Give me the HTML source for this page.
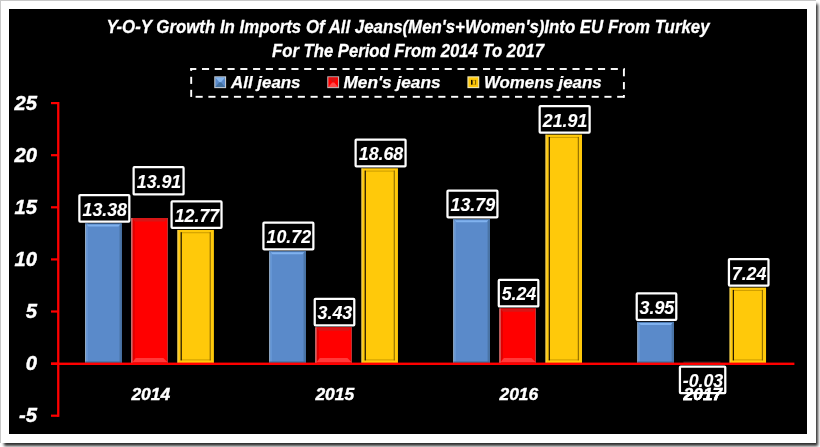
<!DOCTYPE html><html><head><meta charset="utf-8"><style>html,body{margin:0;padding:0;background:#fff;width:820px;height:447px;overflow:hidden}svg{display:block;will-change:transform;font-family:"Liberation Sans",sans-serif}</style></head><body>
<svg width="820" height="447" viewBox="0 0 820 447">
<rect x="0" y="0" width="820" height="447" fill="#fff"/>
<filter id="blur" x="-5%" y="-5%" width="110%" height="110%"><feGaussianBlur stdDeviation="1.8"/></filter>
<rect x="4" y="4" width="814" height="442" fill="#000" opacity="0.82" filter="url(#blur)"/>
<rect x="0" y="0" width="816" height="443" fill="#fff"/>
<rect x="0" y="0" width="816" height="1" fill="#C8C8C8"/>
<rect x="0" y="0" width="1" height="443" fill="#C8C8C8"/>
<rect x="9" y="9" width="798" height="425" fill="#000"/>
<text x="408" y="33.1" text-anchor="middle" font-size="18" font-weight="bold" font-style="italic" fill="#fff" stroke="#fff" stroke-width="0.3" textLength="603" lengthAdjust="spacingAndGlyphs">Y-O-Y Growth In Imports Of All Jeans(Men's+Women's)Into EU From Turkey</text>
<text x="408" y="57.2" text-anchor="middle" font-size="18" font-weight="bold" font-style="italic" fill="#fff" stroke="#fff" stroke-width="0.3" textLength="272" lengthAdjust="spacingAndGlyphs">For The Period From 2014 To 2017</text>
<rect x="190.30" y="68.05" width="6.00" height="1.9" fill="#fff"/>
<rect x="201.97" y="68.05" width="7.10" height="1.9" fill="#fff"/>
<rect x="214.75" y="68.05" width="7.10" height="1.9" fill="#fff"/>
<rect x="227.52" y="68.05" width="7.10" height="1.9" fill="#fff"/>
<rect x="240.30" y="68.05" width="7.10" height="1.9" fill="#fff"/>
<rect x="253.07" y="68.05" width="7.10" height="1.9" fill="#fff"/>
<rect x="265.85" y="68.05" width="7.10" height="1.9" fill="#fff"/>
<rect x="278.62" y="68.05" width="7.10" height="1.9" fill="#fff"/>
<rect x="291.40" y="68.05" width="7.10" height="1.9" fill="#fff"/>
<rect x="304.18" y="68.05" width="7.10" height="1.9" fill="#fff"/>
<rect x="316.95" y="68.05" width="7.10" height="1.9" fill="#fff"/>
<rect x="329.73" y="68.05" width="7.10" height="1.9" fill="#fff"/>
<rect x="342.50" y="68.05" width="7.10" height="1.9" fill="#fff"/>
<rect x="355.27" y="68.05" width="7.10" height="1.9" fill="#fff"/>
<rect x="368.05" y="68.05" width="7.10" height="1.9" fill="#fff"/>
<rect x="380.82" y="68.05" width="7.10" height="1.9" fill="#fff"/>
<rect x="393.60" y="68.05" width="7.10" height="1.9" fill="#fff"/>
<rect x="406.38" y="68.05" width="7.10" height="1.9" fill="#fff"/>
<rect x="419.15" y="68.05" width="7.10" height="1.9" fill="#fff"/>
<rect x="431.92" y="68.05" width="7.10" height="1.9" fill="#fff"/>
<rect x="444.70" y="68.05" width="7.10" height="1.9" fill="#fff"/>
<rect x="457.48" y="68.05" width="7.10" height="1.9" fill="#fff"/>
<rect x="470.25" y="68.05" width="7.10" height="1.9" fill="#fff"/>
<rect x="483.02" y="68.05" width="7.10" height="1.9" fill="#fff"/>
<rect x="495.80" y="68.05" width="7.10" height="1.9" fill="#fff"/>
<rect x="508.57" y="68.05" width="7.10" height="1.9" fill="#fff"/>
<rect x="521.35" y="68.05" width="7.10" height="1.9" fill="#fff"/>
<rect x="534.12" y="68.05" width="7.10" height="1.9" fill="#fff"/>
<rect x="546.90" y="68.05" width="7.10" height="1.9" fill="#fff"/>
<rect x="559.67" y="68.05" width="7.10" height="1.9" fill="#fff"/>
<rect x="572.45" y="68.05" width="7.10" height="1.9" fill="#fff"/>
<rect x="585.23" y="68.05" width="7.10" height="1.9" fill="#fff"/>
<rect x="598.00" y="68.05" width="7.10" height="1.9" fill="#fff"/>
<rect x="610.77" y="68.05" width="7.10" height="1.9" fill="#fff"/>
<rect x="623.55" y="68.05" width="1.35" height="1.9" fill="#fff"/>
<rect x="195.60" y="95.85" width="7.10" height="1.9" fill="#fff"/>
<rect x="208.38" y="95.85" width="7.10" height="1.9" fill="#fff"/>
<rect x="221.15" y="95.85" width="7.10" height="1.9" fill="#fff"/>
<rect x="233.93" y="95.85" width="7.10" height="1.9" fill="#fff"/>
<rect x="246.70" y="95.85" width="7.10" height="1.9" fill="#fff"/>
<rect x="259.48" y="95.85" width="7.10" height="1.9" fill="#fff"/>
<rect x="272.25" y="95.85" width="7.10" height="1.9" fill="#fff"/>
<rect x="285.02" y="95.85" width="7.10" height="1.9" fill="#fff"/>
<rect x="297.80" y="95.85" width="7.10" height="1.9" fill="#fff"/>
<rect x="310.57" y="95.85" width="7.10" height="1.9" fill="#fff"/>
<rect x="323.35" y="95.85" width="7.10" height="1.9" fill="#fff"/>
<rect x="336.12" y="95.85" width="7.10" height="1.9" fill="#fff"/>
<rect x="348.90" y="95.85" width="7.10" height="1.9" fill="#fff"/>
<rect x="361.68" y="95.85" width="7.10" height="1.9" fill="#fff"/>
<rect x="374.45" y="95.85" width="7.10" height="1.9" fill="#fff"/>
<rect x="387.23" y="95.85" width="7.10" height="1.9" fill="#fff"/>
<rect x="400.00" y="95.85" width="7.10" height="1.9" fill="#fff"/>
<rect x="412.77" y="95.85" width="7.10" height="1.9" fill="#fff"/>
<rect x="425.55" y="95.85" width="7.10" height="1.9" fill="#fff"/>
<rect x="438.32" y="95.85" width="7.10" height="1.9" fill="#fff"/>
<rect x="451.10" y="95.85" width="7.10" height="1.9" fill="#fff"/>
<rect x="463.88" y="95.85" width="7.10" height="1.9" fill="#fff"/>
<rect x="476.65" y="95.85" width="7.10" height="1.9" fill="#fff"/>
<rect x="489.42" y="95.85" width="7.10" height="1.9" fill="#fff"/>
<rect x="502.20" y="95.85" width="7.10" height="1.9" fill="#fff"/>
<rect x="514.98" y="95.85" width="7.10" height="1.9" fill="#fff"/>
<rect x="527.75" y="95.85" width="7.10" height="1.9" fill="#fff"/>
<rect x="540.52" y="95.85" width="7.10" height="1.9" fill="#fff"/>
<rect x="553.30" y="95.85" width="7.10" height="1.9" fill="#fff"/>
<rect x="566.08" y="95.85" width="7.10" height="1.9" fill="#fff"/>
<rect x="578.85" y="95.85" width="7.10" height="1.9" fill="#fff"/>
<rect x="591.62" y="95.85" width="7.10" height="1.9" fill="#fff"/>
<rect x="604.40" y="95.85" width="7.10" height="1.9" fill="#fff"/>
<rect x="617.17" y="95.85" width="7.10" height="1.9" fill="#fff"/>
<rect x="190.25" y="68.10" width="1.9" height="2.80" fill="#fff"/>
<rect x="190.25" y="76.80" width="1.9" height="7.10" fill="#fff"/>
<rect x="190.25" y="89.80" width="1.9" height="7.10" fill="#fff"/>
<rect x="622.95" y="69.10" width="1.9" height="7.20" fill="#fff"/>
<rect x="622.95" y="82.05" width="1.9" height="7.20" fill="#fff"/>
<rect x="622.95" y="95.00" width="1.9" height="2.70" fill="#fff"/>
<rect x="214.25" y="76.30" width="11.85" height="11.85" fill="#C0C8D0"/>
<rect x="215.35" y="77.40" width="9.65" height="9.65" fill="#5A8ACA"/>
<polygon points="215.35,77.40 225.00,77.40 221.18,82.00 219.18,82.00" fill="#86B6EE"/>
<polygon points="215.35,87.05 225.00,87.05 221.18,82.45 219.18,82.45" fill="#42709F"/>
<rect x="327.25" y="76.30" width="11.85" height="11.85" fill="#C8B0B0"/>
<rect x="328.35" y="77.40" width="9.65" height="9.65" fill="#FF0000"/>
<polygon points="328.35,77.40 338.00,77.40 334.18,82.00 332.18,82.00" fill="#D81010"/>
<polygon points="328.35,87.05 338.00,87.05 334.18,82.45 332.18,82.45" fill="#FF4848"/>
<rect x="467.40" y="76.30" width="11.85" height="11.85" fill="#F0E6B0"/>
<rect x="468.50" y="77.40" width="9.65" height="9.65" fill="#FFC90A"/>
<rect x="471.00" y="79.90" width="1.6" height="4.8" fill="#1A1200"/>
<rect x="475.00" y="79.90" width="1.1" height="4.8" fill="#8A6800"/>
<rect x="472.60" y="79.90" width="2.4" height="0.8" fill="#C89A00"/>
<rect x="472.60" y="83.90" width="2.4" height="0.8" fill="#C89A00"/>
<text x="231" y="87.5" font-size="16.7" font-weight="bold" font-style="italic" fill="#fff" stroke="#fff" stroke-width="0.25" textLength="69.5" lengthAdjust="spacingAndGlyphs">All jeans</text>
<text x="343.5" y="87.5" font-size="16.7" font-weight="bold" font-style="italic" fill="#fff" stroke="#fff" stroke-width="0.25" textLength="97.0" lengthAdjust="spacingAndGlyphs">Men's jeans</text>
<text x="484.0" y="87.5" font-size="16.7" font-weight="bold" font-style="italic" fill="#fff" stroke="#fff" stroke-width="0.25" textLength="117.6" lengthAdjust="spacingAndGlyphs">Womens jeans</text>
<rect x="57.1" y="102" width="2.3" height="314.8" fill="#FF0000"/>
<rect x="51" y="102.00" width="7.5" height="2.2" fill="#FF0000"/>
<text x="37.0" y="109.70" text-anchor="end" font-size="20.2" font-weight="bold" font-style="italic" fill="#fff" stroke="#fff" stroke-width="0.4">25</text>
<rect x="51" y="154.10" width="7.5" height="2.2" fill="#FF0000"/>
<text x="37.0" y="161.80" text-anchor="end" font-size="20.2" font-weight="bold" font-style="italic" fill="#fff" stroke="#fff" stroke-width="0.4">20</text>
<rect x="51" y="206.20" width="7.5" height="2.2" fill="#FF0000"/>
<text x="37.0" y="213.90" text-anchor="end" font-size="20.2" font-weight="bold" font-style="italic" fill="#fff" stroke="#fff" stroke-width="0.4">15</text>
<rect x="51" y="258.30" width="7.5" height="2.2" fill="#FF0000"/>
<text x="37.0" y="266.00" text-anchor="end" font-size="20.2" font-weight="bold" font-style="italic" fill="#fff" stroke="#fff" stroke-width="0.4">10</text>
<rect x="51" y="310.40" width="7.5" height="2.2" fill="#FF0000"/>
<text x="37.0" y="318.10" text-anchor="end" font-size="20.2" font-weight="bold" font-style="italic" fill="#fff" stroke="#fff" stroke-width="0.4">5</text>
<rect x="51" y="362.50" width="7.5" height="2.2" fill="#FF0000"/>
<text x="37.0" y="370.20" text-anchor="end" font-size="20.2" font-weight="bold" font-style="italic" fill="#fff" stroke="#fff" stroke-width="0.4">0</text>
<rect x="51" y="414.60" width="7.5" height="2.2" fill="#FF0000"/>
<text x="37.0" y="422.30" text-anchor="end" font-size="20.2" font-weight="bold" font-style="italic" fill="#fff" stroke="#fff" stroke-width="0.4">-5</text>
<rect x="85.20" y="223.57" width="36.50" height="139.83" fill="#5A8ACA"/>
<rect x="85.20" y="223.57" width="1.1" height="139.83" fill="#A4B8CC"/>
<rect x="86.30" y="223.57" width="1.6" height="139.83" fill="#6595D4"/>
<rect x="119.50" y="223.57" width="2.2" height="139.83" fill="#4A74A6"/>
<rect x="85.20" y="361.50" width="36.50" height="1.9" fill="#3A6890"/>
<rect x="85.20" y="223.57" width="36.50" height="1" fill="#4C7AB2"/>
<polygon points="86.70,224.57 120.20,224.57 118.50,226.57 88.40,226.57" fill="#80B2EF"/>
<rect x="131.30" y="218.05" width="36.50" height="145.35" fill="#FF0000"/>
<polygon points="131.30,218.05 167.80,218.05 164.80,221.45 134.30,221.45" fill="#D81616"/>
<polygon points="132.30,362.40 167.80,362.40 163.30,357.90 135.80,357.90" fill="#FF3A3A"/>
<rect x="131.30" y="362.40" width="36.50" height="1" fill="#C81A1A"/>
<polygon points="132.30,218.55 134.80,221.45 134.80,357.90 132.30,362.40" fill="#E00000"/>
<rect x="131.30" y="218.05" width="1.1" height="145.35" fill="#C89898"/>
<rect x="167.00" y="218.05" width="0.8" height="145.35" fill="#A06060" opacity="0.7"/>
<rect x="177.40" y="229.93" width="36.50" height="133.47" fill="#FFC90A"/>
<rect x="180.60" y="232.23" width="30.10" height="1" fill="#CC9C00"/>
<rect x="180.60" y="359.40" width="30.10" height="1" fill="#CC9C00"/>
<rect x="180.60" y="232.23" width="1.2" height="128.17" fill="#1A1000"/>
<rect x="209.70" y="232.23" width="1" height="128.17" fill="#806000"/>
<rect x="177.40" y="229.93" width="1" height="133.47" fill="#E8D690" opacity="0.7"/>
<text x="150.75" y="400.2" text-anchor="middle" font-size="17.4" font-weight="bold" font-style="italic" fill="#fff" stroke="#fff" stroke-width="0.4">2014</text>
<rect x="269.25" y="251.31" width="36.50" height="112.09" fill="#5A8ACA"/>
<rect x="269.25" y="251.31" width="1.1" height="112.09" fill="#A4B8CC"/>
<rect x="270.35" y="251.31" width="1.6" height="112.09" fill="#6595D4"/>
<rect x="303.55" y="251.31" width="2.2" height="112.09" fill="#4A74A6"/>
<rect x="269.25" y="361.50" width="36.50" height="1.9" fill="#3A6890"/>
<rect x="269.25" y="251.31" width="36.50" height="1" fill="#4C7AB2"/>
<polygon points="270.75,252.31 304.25,252.31 302.55,254.31 272.45,254.31" fill="#80B2EF"/>
<rect x="315.35" y="327.33" width="36.50" height="36.07" fill="#FF0000"/>
<polygon points="315.35,327.33 351.85,327.33 348.85,330.73 318.35,330.73" fill="#D81616"/>
<polygon points="316.35,362.40 351.85,362.40 347.35,357.90 319.85,357.90" fill="#FF3A3A"/>
<rect x="315.35" y="362.40" width="36.50" height="1" fill="#C81A1A"/>
<polygon points="316.35,327.83 318.85,330.73 318.85,357.90 316.35,362.40" fill="#E00000"/>
<rect x="315.35" y="327.33" width="1.1" height="36.07" fill="#C89898"/>
<rect x="351.05" y="327.33" width="0.8" height="36.07" fill="#A06060" opacity="0.7"/>
<rect x="361.45" y="168.30" width="36.50" height="195.10" fill="#FFC90A"/>
<rect x="364.65" y="170.60" width="30.10" height="1" fill="#CC9C00"/>
<rect x="364.65" y="359.40" width="30.10" height="1" fill="#CC9C00"/>
<rect x="364.65" y="170.60" width="1.2" height="189.80" fill="#1A1000"/>
<rect x="393.75" y="170.60" width="1" height="189.80" fill="#806000"/>
<rect x="361.45" y="168.30" width="1" height="195.10" fill="#E8D690" opacity="0.7"/>
<text x="334.80" y="400.2" text-anchor="middle" font-size="17.4" font-weight="bold" font-style="italic" fill="#fff" stroke="#fff" stroke-width="0.4">2015</text>
<rect x="453.30" y="219.30" width="36.50" height="144.10" fill="#5A8ACA"/>
<rect x="453.30" y="219.30" width="1.1" height="144.10" fill="#A4B8CC"/>
<rect x="454.40" y="219.30" width="1.6" height="144.10" fill="#6595D4"/>
<rect x="487.60" y="219.30" width="2.2" height="144.10" fill="#4A74A6"/>
<rect x="453.30" y="361.50" width="36.50" height="1.9" fill="#3A6890"/>
<rect x="453.30" y="219.30" width="36.50" height="1" fill="#4C7AB2"/>
<polygon points="454.80,220.30 488.30,220.30 486.60,222.30 456.50,222.30" fill="#80B2EF"/>
<rect x="499.40" y="308.46" width="36.50" height="54.94" fill="#FF0000"/>
<polygon points="499.40,308.46 535.90,308.46 532.90,311.86 502.40,311.86" fill="#D81616"/>
<polygon points="500.40,362.40 535.90,362.40 531.40,357.90 503.90,357.90" fill="#FF3A3A"/>
<rect x="499.40" y="362.40" width="36.50" height="1" fill="#C81A1A"/>
<polygon points="500.40,308.96 502.90,311.86 502.90,357.90 500.40,362.40" fill="#E00000"/>
<rect x="499.40" y="308.46" width="1.1" height="54.94" fill="#C89898"/>
<rect x="535.10" y="308.46" width="0.8" height="54.94" fill="#A06060" opacity="0.7"/>
<rect x="545.50" y="134.62" width="36.50" height="228.78" fill="#FFC90A"/>
<rect x="548.70" y="136.92" width="30.10" height="1" fill="#CC9C00"/>
<rect x="548.70" y="359.40" width="30.10" height="1" fill="#CC9C00"/>
<rect x="548.70" y="136.92" width="1.2" height="223.48" fill="#1A1000"/>
<rect x="577.80" y="136.92" width="1" height="223.48" fill="#806000"/>
<rect x="545.50" y="134.62" width="1" height="228.78" fill="#E8D690" opacity="0.7"/>
<text x="518.85" y="400.2" text-anchor="middle" font-size="17.4" font-weight="bold" font-style="italic" fill="#fff" stroke="#fff" stroke-width="0.4">2016</text>
<rect x="637.35" y="321.91" width="36.50" height="41.49" fill="#5A8ACA"/>
<rect x="637.35" y="321.91" width="1.1" height="41.49" fill="#A4B8CC"/>
<rect x="638.45" y="321.91" width="1.6" height="41.49" fill="#6595D4"/>
<rect x="671.65" y="321.91" width="2.2" height="41.49" fill="#4A74A6"/>
<rect x="637.35" y="361.50" width="36.50" height="1.9" fill="#3A6890"/>
<rect x="637.35" y="321.91" width="36.50" height="1" fill="#4C7AB2"/>
<polygon points="638.85,322.91 672.35,322.91 670.65,324.91 640.55,324.91" fill="#80B2EF"/>
<rect x="729.55" y="287.60" width="36.50" height="75.80" fill="#FFC90A"/>
<rect x="732.75" y="289.90" width="30.10" height="1" fill="#CC9C00"/>
<rect x="732.75" y="359.40" width="30.10" height="1" fill="#CC9C00"/>
<rect x="732.75" y="289.90" width="1.2" height="70.50" fill="#1A1000"/>
<rect x="761.85" y="289.90" width="1" height="70.50" fill="#806000"/>
<rect x="729.55" y="287.60" width="1" height="75.80" fill="#E8D690" opacity="0.7"/>
<text x="702.90" y="400.2" text-anchor="middle" font-size="17.4" font-weight="bold" font-style="italic" fill="#fff" stroke="#fff" stroke-width="0.4">2017</text>
<rect x="683.4" y="361.6" width="37" height="1.2" fill="#5A4A4A" opacity="0.6"/>
<rect x="51" y="362.6" width="743.4" height="2.4" fill="#FF0000"/>
<rect x="79.38" y="195.00" width="49.95" height="26.55" rx="0.8" fill="#000" stroke="#fff" stroke-width="2.25"/>
<text x="104.75" y="215.57" text-anchor="middle" font-size="17.8" font-weight="bold" font-style="italic" fill="#fff" stroke="#fff" stroke-width="0.1">13.38</text>
<rect x="133.62" y="167.22" width="49.95" height="27.25" rx="0.8" fill="#000" stroke="#fff" stroke-width="2.25"/>
<text x="159.00" y="187.80" text-anchor="middle" font-size="17.8" font-weight="bold" font-style="italic" fill="#fff" stroke="#fff" stroke-width="0.1">13.91</text>
<rect x="171.58" y="201.36" width="49.95" height="26.55" rx="0.8" fill="#000" stroke="#fff" stroke-width="2.25"/>
<text x="196.95" y="221.93" text-anchor="middle" font-size="17.8" font-weight="bold" font-style="italic" fill="#fff" stroke="#fff" stroke-width="0.1">12.77</text>
<rect x="263.42" y="222.74" width="49.95" height="26.55" rx="0.8" fill="#000" stroke="#fff" stroke-width="2.25"/>
<text x="288.80" y="243.31" text-anchor="middle" font-size="17.8" font-weight="bold" font-style="italic" fill="#fff" stroke="#fff" stroke-width="0.1">10.72</text>
<rect x="314.73" y="298.76" width="39.55" height="26.55" rx="0.8" fill="#000" stroke="#fff" stroke-width="2.25"/>
<text x="334.90" y="319.33" text-anchor="middle" font-size="17.8" font-weight="bold" font-style="italic" fill="#fff" stroke="#fff" stroke-width="0.1">3.43</text>
<rect x="355.62" y="139.73" width="49.95" height="26.55" rx="0.8" fill="#000" stroke="#fff" stroke-width="2.25"/>
<text x="381.00" y="160.30" text-anchor="middle" font-size="17.8" font-weight="bold" font-style="italic" fill="#fff" stroke="#fff" stroke-width="0.1">18.68</text>
<rect x="447.47" y="190.72" width="49.95" height="26.55" rx="0.8" fill="#000" stroke="#fff" stroke-width="2.25"/>
<text x="472.85" y="211.30" text-anchor="middle" font-size="17.8" font-weight="bold" font-style="italic" fill="#fff" stroke="#fff" stroke-width="0.1">13.79</text>
<rect x="498.78" y="279.88" width="39.55" height="26.55" rx="0.8" fill="#000" stroke="#fff" stroke-width="2.25"/>
<text x="518.95" y="300.46" text-anchor="middle" font-size="17.8" font-weight="bold" font-style="italic" fill="#fff" stroke="#fff" stroke-width="0.1">5.24</text>
<rect x="539.67" y="106.05" width="49.95" height="26.55" rx="0.8" fill="#000" stroke="#fff" stroke-width="2.25"/>
<text x="565.05" y="126.62" text-anchor="middle" font-size="17.8" font-weight="bold" font-style="italic" fill="#fff" stroke="#fff" stroke-width="0.1">21.91</text>
<rect x="636.73" y="293.33" width="39.55" height="26.55" rx="0.8" fill="#000" stroke="#fff" stroke-width="2.25"/>
<text x="656.90" y="313.91" text-anchor="middle" font-size="17.8" font-weight="bold" font-style="italic" fill="#fff" stroke="#fff" stroke-width="0.1">3.95</text>
<rect x="679.93" y="366.52" width="45.35" height="26.55" rx="0.8" fill="#000" stroke="#fff" stroke-width="2.25"/>
<text x="703.00" y="387.10" text-anchor="middle" font-size="17.8" font-weight="bold" font-style="italic" fill="#fff" stroke="#fff" stroke-width="0.1">-0.03</text>
<rect x="728.93" y="259.03" width="39.55" height="26.55" rx="0.8" fill="#000" stroke="#fff" stroke-width="2.25"/>
<text x="749.10" y="279.60" text-anchor="middle" font-size="17.8" font-weight="bold" font-style="italic" fill="#fff" stroke="#fff" stroke-width="0.1">7.24</text>
<text x="702.90" y="400.2" text-anchor="middle" font-size="17.4" font-weight="bold" font-style="italic" fill="#fff" stroke="#fff" stroke-width="0.4">2017</text>
</svg></body></html>
